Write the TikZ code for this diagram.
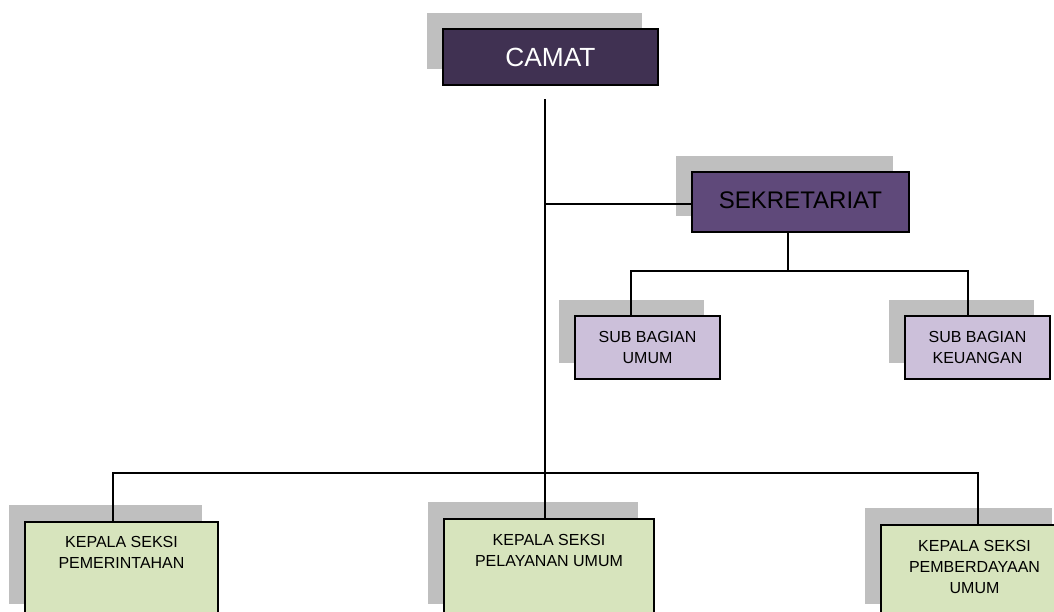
\documentclass[tikz,border=0pt]{standalone}
\usepackage{fontspec}
\setmainfont{Liberation Sans}
\usetikzlibrary{positioning, shadows}
\definecolor{camatUngu}{HTML}{403152}
\definecolor{sekUngu}{HTML}{5F497A}
\definecolor{subUngu}{HTML}{CCC0DA}
\definecolor{seksiHijau}{HTML}{D7E4BD}
\definecolor{bayangAbu}{HTML}{BFBFBF}

\begin{document}
\begin{tikzpicture}[x=1pt, y=-1pt,
    kotak/.style={draw=black, line width=1.9pt, inner sep=0pt, align=center,
        drop shadow={shadow xshift=-16pt, shadow yshift=16.5pt, fill=bayangAbu, opacity=1}},
    garis/.style={line width=1.9pt},
    kecil/.style={font=\fontsize{16}{21}\selectfont},
    teks/.style={kecil, inner sep=0pt, align=center}]
    \useasboundingbox (0,0) rectangle (1054,611);

    % Pimpinan dan sekretariat
    \node[kotak, fill=camatUngu, text=white, minimum width=215pt, minimum height=56pt,
        font=\fontsize{26.3}{30}\selectfont] (camat) at (550.5,57) {CAMAT};
    \node[kotak, fill=sekUngu, minimum width=217pt, minimum height=60pt,
        font=\fontsize{24}{28}\selectfont] (sekre) at (800.5,202) {\raisebox{3pt}{SEKRETARIAT}};

    % Sub bagian
    \node[kotak, kecil, fill=subUngu, minimum width=145pt, minimum height=63pt] (subumum) at (647.5,347.5) {SUB BAGIAN\\UMUM};
    \node[kotak, kecil, fill=subUngu, minimum width=145pt, minimum height=63pt] (subkeu) at (977.5,347.5) {SUB BAGIAN\\KEUANGAN};

    % Kepala seksi (teks di bagian atas kotak)
    \node[kotak, fill=seksiHijau, minimum width=193pt, minimum height=99pt, anchor=north] (pemerintahan) at (121.5,521) {};
    \node[kotak, fill=seksiHijau, minimum width=210pt, minimum height=102pt, anchor=north] (pelayanan) at (549,518) {};
    \node[kotak, fill=seksiHijau, minimum width=187pt, minimum height=96pt, anchor=north] (pemberdayaan) at (974.5,524) {};
    \node[teks, below=15pt of pemerintahan.north] (tpemerintahan) {KEPALA SEKSI\\PEMERINTAHAN};
    \node[teks, below=16pt of pelayanan.north] (tpelayanan) {KEPALA SEKSI\\PELAYANAN UMUM};
    \node[teks, below=16pt of pemberdayaan.north] (tpemberdayaan) {KEPALA SEKSI\\PEMBERDAYAAN\\UMUM};

    % Garis komando
    \coordinate (camatbawah) at (545,99);
    \draw[garis] (camatbawah) -- (camatbawah |- pelayanan.north);
    \coordinate (cabangsekre) at (545,204);
    \draw[garis] (cabangsekre) -- (cabangsekre -| sekre.west);

    \coordinate (cabangsek) at (788,271);
    \draw[garis] (cabangsek |- sekre.south) -- (cabangsek);
    \draw[garis] ([xshift=-16.5pt]subumum.north) |- (cabangsek) -| ([xshift=-9.5pt]subkeu.north);

    \coordinate (cabangseksi) at (545,473);
    \draw[garis] ([xshift=-8.5pt]pemerintahan.north) |- (cabangseksi) -| ([xshift=3.5pt]pemberdayaan.north);
\end{tikzpicture}
\end{document}
